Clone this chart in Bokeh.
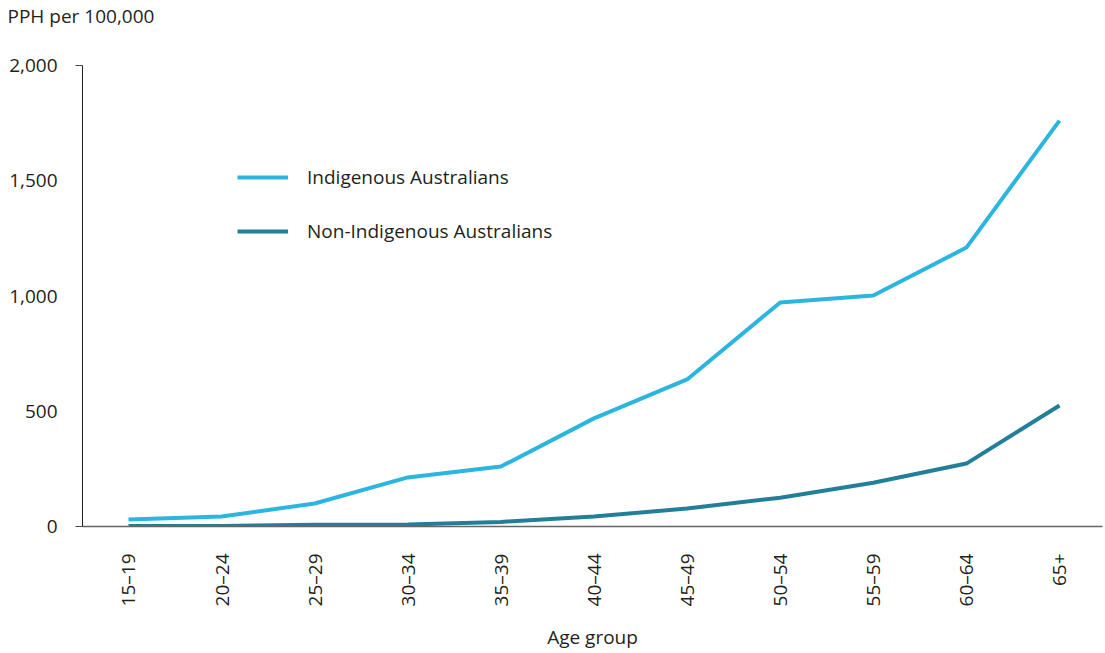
import math
from bokeh.plotting import figure
from bokeh.models import (Range1d, FixedTicker, Legend, LegendItem, NumeralTickFormatter,
                          LinearAxis, Title)
from bokeh.embed import file_html
from bokeh.resources import INLINE

age_groups = ["15–19", "20–24", "25–29", "30–34", "35–39", "40–44",
              "45–49", "50–54", "55–59", "60–64", "65+"]
indigenous = [30, 43, 100, 213, 260, 469, 638, 972, 1002, 1210, 1761]
non_indigenous = [2, 2, 8, 9, 20, 43, 78, 125, 190, 273, 525]
y_ticks = [0, 500, 1000, 1500, 2000]

FONT = "Open Sans"
FS = "19px"
TXT = "#231f20"

xs = list(range(len(age_groups)))

p = figure(width=1105, height=653, output_backend="svg", toolbar_location=None,
           title=None,
           x_range=Range1d(-0.494, 10.462), y_range=Range1d(0, 2000),
           min_border_left=82, min_border_right=3, min_border_top=0,
           min_border_bottom=127)
p.background_fill_color = None
p.border_fill_color = "white"
p.outline_line_color = None
p.grid.visible = False

# spacer between the unit title and the frame
p.add_layout(Title(text=" ", text_font=FONT, text_font_size=FS, standoff=9), "above")
p.add_layout(Title(text="PPH per 100,000", align="left", offset=-75,
                   text_font=FONT, text_font_size=FS, text_font_style="normal",
                   text_color=TXT, standoff=0), "above")

r1 = p.line(xs, indigenous, line_color="#2cb5df", line_width=4)
r2 = p.line(xs, non_indigenous, line_color="#237f98", line_width=4)

xa = p.xaxis[0]
xa.ticker = FixedTicker(ticks=xs)
xa.major_label_overrides = {i: g for i, g in enumerate(age_groups)}
xa.major_label_orientation = math.pi / 2
xa.major_tick_line_color = None
xa.minor_tick_line_color = None
xa.axis_line_color = "#666666"
xa.axis_line_width = 1.5
xa.major_label_text_font = FONT
xa.major_label_text_font_size = FS
xa.major_label_text_color = TXT
xa.major_label_standoff = 21
xa.axis_label = "Age group"
xa.axis_label_text_font = FONT
xa.axis_label_text_font_size = FS
xa.axis_label_text_font_style = "normal"
xa.axis_label_text_color = TXT
xa.axis_label_standoff = 15

# inner y axis: line plus the outer ticks at 0 and 2,000
ya = p.yaxis[0]
ya.ticker = FixedTicker(ticks=[y_ticks[0], y_ticks[-1]])
ya.major_label_overrides = {y_ticks[0]: "", y_ticks[-1]: ""}
ya.major_tick_in = 0
ya.major_tick_out = 7
ya.major_tick_line_color = "#444444"
ya.minor_tick_line_color = None
ya.axis_line_color = "#231f20"
ya.axis_line_width = 1
ya.major_label_standoff = 0
ya.major_label_text_font_size = "1px"

# outer y axis: tick labels only
yl = LinearAxis(ticker=FixedTicker(ticks=y_ticks),
                formatter=NumeralTickFormatter(format="0,0"))
yl.axis_line_color = None
yl.major_tick_line_color = None
yl.minor_tick_line_color = None
yl.major_label_text_font = FONT
yl.major_label_text_font_size = FS
yl.major_label_text_color = TXT
yl.major_label_standoff = 12
p.add_layout(yl, "left")

legend = Legend(items=[LegendItem(label="Indigenous Australians", renderers=[r1]),
                       LegendItem(label="Non-Indigenous Australians", renderers=[r2])],
                location=(155, 282), orientation="vertical",
                label_text_font=FONT, label_text_font_size=FS, label_text_color=TXT,
                glyph_width=51, glyph_height=20, label_height=20, label_standoff=19,
                spacing=28, padding=0, margin=0,
                border_line_color=None, background_fill_color=None)
p.add_layout(legend)

open("out.html", "w").write(file_html(p, INLINE))
